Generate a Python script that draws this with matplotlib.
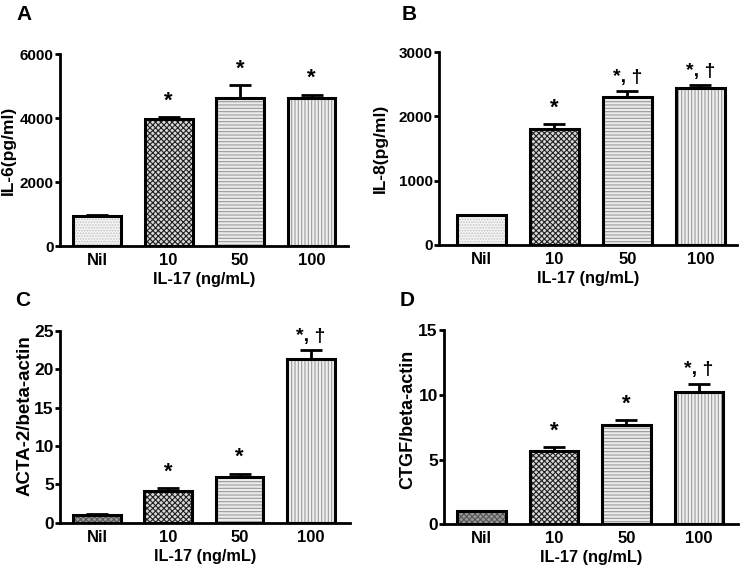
import matplotlib
matplotlib.use("Agg")
import matplotlib.pyplot as plt
import numpy as np

plt.rcParams['font.family'] = ['Liberation Sans', 'DejaVu Sans']
plt.rcParams['font.weight'] = 'bold'
plt.rcParams['hatch.linewidth'] = 0.8

categories = ["Nil", "10", "50", "100"]

il6_vals = [940, 3980, 4620, 4620]
il6_err = [30, 50, 410, 110]
il6_marks = ["", "*", "*", "*"]

il8_vals = [460, 1800, 2300, 2440]
il8_err = [10, 80, 90, 40]
il8_marks = ["", "*", "*, †", "*, †"]

acta_vals = [1.05, 4.12, 5.99, 21.27]
acta_err = [0.05, 0.35, 0.39, 1.2]
acta_marks = ["", "*", "*", "*, †"]

ctgf_vals = [1.0, 5.69, 7.64, 10.24]
ctgf_err = [0.03, 0.25, 0.41, 0.62]
ctgf_marks = ["", "*", "*", "*, †"]

W, H = 740, 575
fig = plt.figure(figsize=(W / 100, H / 100), dpi=100)


def frac(left, top, right, bottom):
    return [left / W, 1 - bottom / H, (right - left) / W, (bottom - top) / H]


panels = [
    dict(rect=frac(60, 54, 348, 246), vals=il6_vals, err=il6_err, marks=il6_marks,
         ylim=6000, ticks=[0, 2000, 4000, 6000], ylabel="IL-6(pg/ml)",
         xlim=(-0.52, 3.51), nil_style="light", yfs=11, lfs=12.5, lpos=(-0.153, 0.5)),
    dict(rect=frac(439, 52, 737, 245), vals=il8_vals, err=il8_err, marks=il8_marks,
         ylim=3000, ticks=[0, 1000, 2000, 3000], ylabel="IL-8(pg/ml)",
         xlim=(-0.58, 3.5), nil_style="light", yfs=11, lfs=12.5, lpos=(-0.171, 0.5)),
    dict(rect=frac(60, 330.7, 350, 522.7), vals=acta_vals, err=acta_err, marks=acta_marks,
         ylim=25, ticks=[0, 5, 10, 15, 20, 25], ylabel="ACTA-2/beta-actin",
         xlim=(-0.52, 3.55), nil_style="dark", yfs=12.5, lfs=13.5, lpos=(-0.092, 0.556)),
    dict(rect=frac(444, 330, 738, 524.3), vals=ctgf_vals, err=ctgf_err, marks=ctgf_marks,
         ylim=15, ticks=[0, 5, 10, 15], ylabel="CTGF/beta-actin",
         xlim=(-0.52, 3.54), nil_style="dark", yfs=12.5, lfs=13, lpos=(-0.093, 0.54)),
]

for p in panels:
    ax = fig.add_axes(p["rect"])
    x = np.arange(len(categories))
    vals = p["vals"]
    err = p["err"]
    if p["nil_style"] == "light":
        nil_face, nil_hatch, nil_hc = "#f4f4f4", "......", "#c4c4c4"
    else:
        nil_face, nil_hatch, nil_hc = "#9a9a9a", "xxxxxx", "#555555"
    faces = [nil_face, "#d8d8d8", "#ececec", "#f0f0f0"]
    hatches = [nil_hatch, "xxxxxx", "-----", "|||||"]
    hcols = [nil_hc, "#202020", "#9a9a9a", "#9a9a9a"]
    for i in range(len(categories)):
        ax.bar(x[i], vals[i], width=0.67, color=faces[i], hatch=hatches[i],
               edgecolor=hcols[i], linewidth=0, zorder=2)
    ax.bar(x, vals, width=0.67, color="none", edgecolor="black", linewidth=2.2, zorder=3)
    ax.errorbar(x, vals, yerr=[np.zeros(len(vals)), err], fmt="none", ecolor="black",
                elinewidth=2, capsize=8, capthick=2, zorder=4)
    for i, m in enumerate(p["marks"]):
        if m:
            ax.annotate(m, (x[i], vals[i] + err[i]), xytext=(0, 4), textcoords="offset points",
                        ha="center", va="bottom", fontsize=16 if m == "*" else 14,
                        fontweight="bold")
    ax.set_ylim(0, p["ylim"])
    ax.set_xlim(*p["xlim"])
    ax.set_yticks(p["ticks"])
    ax.set_yticklabels([str(t) for t in p["ticks"]], fontsize=p["yfs"], fontweight="bold")
    ax.set_xticks(x)
    ax.set_xticklabels(categories, fontsize=12, fontweight="bold")
    ax.tick_params(axis="x", length=0, pad=5)
    ax.tick_params(axis="y", length=3.5, width=2, pad=1)
    for s in ["top", "right"]:
        ax.spines[s].set_visible(False)
    for s in ["left", "bottom"]:
        ax.spines[s].set_linewidth(2)
    ax.set_ylabel(p["ylabel"], fontsize=p["lfs"], fontweight="bold")
    ax.yaxis.set_label_coords(*p["lpos"])
    ax.set_xlabel("IL-17 (ng/mL)", fontsize=11.7, fontweight="bold", labelpad=3)
    ax.set_facecolor("none")

fig.text(16 / W, 1 - 14.5 / H, "A", fontsize=15, fontweight="bold", ha="left", va="center")
fig.text(402 / W, 1 - 15 / H, "B", fontsize=15, fontweight="bold", ha="left", va="center")
fig.text(15 / W, 1 - 300 / H, "C", fontsize=15, fontweight="bold", ha="left", va="center")
fig.text(400 / W, 1 - 301 / H, "D", fontsize=15, fontweight="bold", ha="left", va="center")

fig.savefig("out.png", dpi=100, facecolor="white")
